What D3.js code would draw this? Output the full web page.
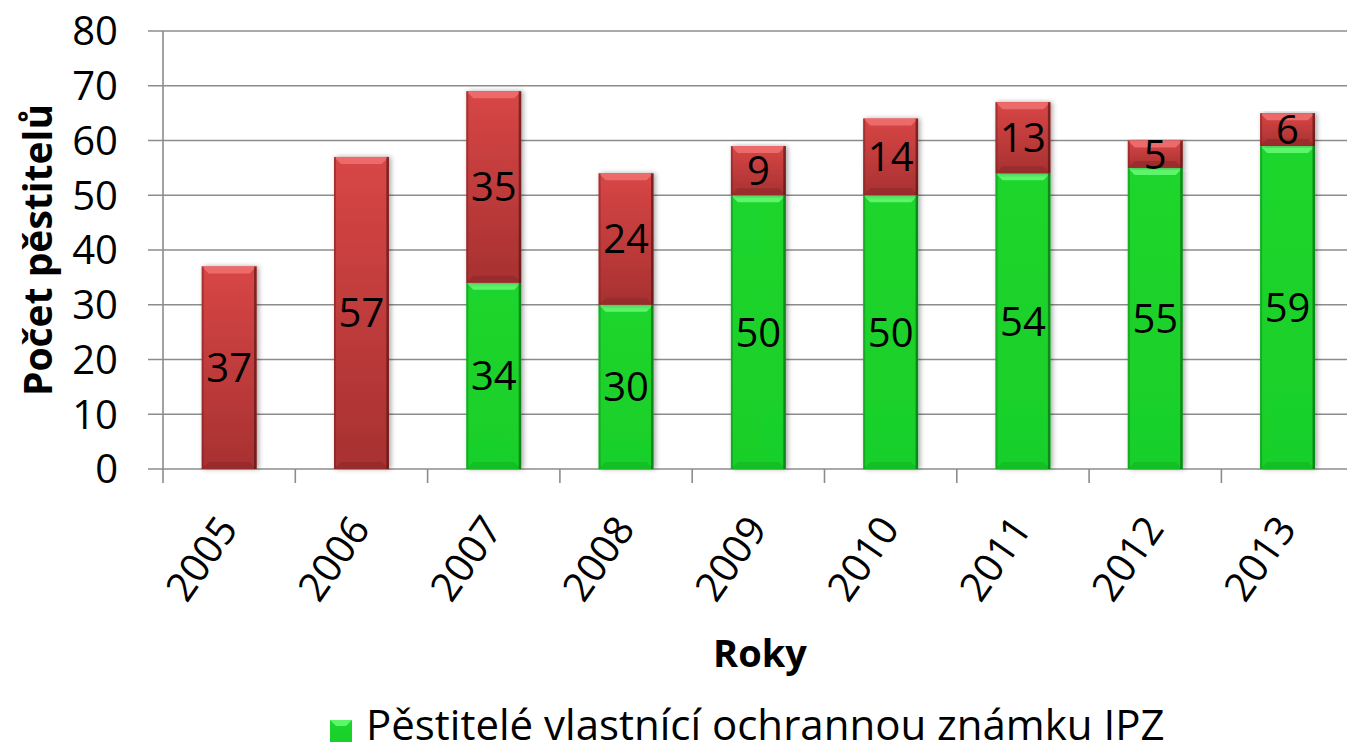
<!DOCTYPE html>
<html>
<head>
<meta charset="utf-8">
<script src="https://cdn.jsdelivr.net/npm/d3@7"></script>
<style>
  body { margin: 0; background: #fff; }
  text { font-family: "Open Sans", sans-serif; }
</style>
</head>
<body>
<div id="chart"></div>
<script>
// chart data
const years = ["2005", "2006", "2007", "2008", "2009", "2010", "2011", "2012", "2013"];
const withIPZ = [0, 0, 34, 30, 50, 50, 54, 55, 59];
const withoutIPZ = [37, 57, 35, 24, 9, 14, 13, 5, 6];
const yTicks = [0, 10, 20, 30, 40, 50, 60, 70, 80];
const legendLabel = "Pěstitelé vlastnící ochrannou známku IPZ";

const width = 1347, height = 752;
const plotLeft = 163, plotTop = 31, plotBottom = 469;
const bandW = 132.3;

let svg = d3.select("#chart")
  .append("svg")
  .attr("width", width)
  .attr("height", height);

let defs = svg.append("defs");

function grad(id, c1, c2) {
  let g = defs.append("linearGradient")
    .attr("id", id)
    .attr("x1", 0).attr("y1", 0).attr("x2", 0).attr("y2", 1);
  g.append("stop").attr("offset", "0%").attr("stop-color", c1);
  g.append("stop").attr("offset", "100%").attr("stop-color", c2);
}
grad("redGrad", "#d84646", "#a83131");
grad("greenGrad", "#1dd52d", "#19cf29");

let shadow = defs.append("filter").attr("id", "shadow")
  .attr("x", "-20%").attr("y", "-5%").attr("width", "140%").attr("height", "110%");
shadow.append("feDropShadow")
  .attr("dx", 2).attr("dy", 0).attr("stdDeviation", 2.5)
  .attr("flood-color", "#000").attr("flood-opacity", 0.35);

let x = d3.scaleBand()
  .domain(years)
  .range([plotLeft, plotLeft + bandW * years.length])
  .paddingInner(0.585)
  .paddingOuter(0.2925);

let y = d3.scaleLinear()
  .domain([0, 80])
  .range([plotBottom, plotTop]);

// gridlines
svg.append("g")
  .selectAll("line")
  .data(yTicks)
  .enter()
  .append("line")
  .attr("x1", plotLeft - 15)
  .attr("x2", width)
  .attr("y1", d => y(d))
  .attr("y2", d => y(d))
  .attr("stroke", "#8c8c8c")
  .attr("stroke-width", 1.6);

// y axis line
svg.append("line")
  .attr("x1", plotLeft).attr("x2", plotLeft)
  .attr("y1", plotTop).attr("y2", plotBottom + 14)
  .attr("stroke", "#8c8c8c").attr("stroke-width", 1.6);

// x ticks
svg.append("g")
  .selectAll("line")
  .data(d3.range(1, years.length))
  .enter()
  .append("line")
  .attr("x1", i => plotLeft + i * bandW)
  .attr("x2", i => plotLeft + i * bandW)
  .attr("y1", plotBottom)
  .attr("y2", plotBottom + 14)
  .attr("stroke", "#8c8c8c").attr("stroke-width", 1.6);

// y tick labels
svg.append("g")
  .selectAll("text")
  .data(yTicks)
  .enter()
  .append("text")
  .attr("x", 118)
  .attr("y", d => y(d))
  .attr("dy", "0.36em")
  .attr("text-anchor", "end")
  .style("font-size", "40px")
  .text(d => d);

// stacked segments
let segments = [];
years.forEach((yr, i) => {
  if (withIPZ[i] > 0) segments.push({ year: yr, y0: 0, y1: withIPZ[i], v: withIPZ[i], kind: "green" });
  if (withoutIPZ[i] > 0) segments.push({ year: yr, y0: withIPZ[i], y1: withIPZ[i] + withoutIPZ[i], v: withoutIPZ[i], kind: "red" });
});

let bars = svg.append("g")
  .selectAll("g")
  .data(segments)
  .enter()
  .append("g");

bars.append("rect")
  .attr("x", d => x(d.year))
  .attr("y", d => y(d.y1))
  .attr("width", x.bandwidth())
  .attr("height", d => y(d.y0) - y(d.y1))
  .attr("fill", d => d.kind === "red" ? "url(#redGrad)" : "url(#greenGrad)")
  .attr("filter", "url(#shadow)");

// bevel: light top, dark bottom, darker sides
const bev = 7;
bars.append("path")
  .attr("d", d => {
    let x0 = x(d.year), x1 = x0 + x.bandwidth(), yt = y(d.y1);
    let b = Math.min(bev, (y(d.y0) - yt) / 2);
    return `M${x0},${yt}L${x1},${yt}L${x1 - b},${yt + b}L${x0 + b},${yt + b}Z`;
  })
  .attr("fill", d => d.kind === "red" ? "#ec6a6a" : "#5cf66a");

bars.append("path")
  .attr("d", d => {
    let x0 = x(d.year), x1 = x0 + x.bandwidth(), yb = y(d.y0);
    let b = Math.min(bev, (yb - y(d.y1)) / 2);
    return `M${x0},${yb}L${x1},${yb}L${x1 - b},${yb - b}L${x0 + b},${yb - b}Z`;
  })
  .attr("fill", d => d.kind === "red" ? "#8e2828" : "#14b423")
  .attr("opacity", 0.6);

bars.append("rect")
  .attr("x", d => x(d.year))
  .attr("y", d => y(d.y1))
  .attr("width", 2)
  .attr("height", d => y(d.y0) - y(d.y1))
  .attr("fill", d => d.kind === "red" ? "#7a1f1f" : "#0e8a1a")
  .attr("opacity", 0.5);

bars.append("rect")
  .attr("x", d => x(d.year) + x.bandwidth() - 2.5)
  .attr("y", d => y(d.y1))
  .attr("width", 2.5)
  .attr("height", d => y(d.y0) - y(d.y1))
  .attr("fill", d => d.kind === "red" ? "#5a1414" : "#0a6a14")
  .attr("opacity", 0.7);

// value labels
bars.append("text")
  .attr("x", d => x(d.year) + x.bandwidth() / 2)
  .attr("y", d => (y(d.y0) + y(d.y1)) / 2)
  .attr("dy", "0.36em")
  .attr("text-anchor", "middle")
  .style("font-size", "40px")
  .text(d => d.v);

// x labels
svg.append("g")
  .selectAll("text")
  .data(years)
  .enter()
  .append("text")
  .attr("transform", d => `translate(${x(d) + x.bandwidth() / 2 + 10},${529}) rotate(-55)`)
  .attr("text-anchor", "end")
  .style("font-size", "40px")
  .text(d => d);

// axis titles
svg.append("text")
  .attr("x", 760)
  .attr("y", 667)
  .attr("text-anchor", "middle")
  .style("font-size", "38px")
  .style("font-weight", "bold")
  .text("Roky");

svg.append("text")
  .attr("transform", "translate(52,250) rotate(-90)")
  .attr("text-anchor", "middle")
  .style("font-size", "39px")
  .style("font-weight", "bold")
  .text("Počet pěstitelů");

// legend
let legend = svg.append("g");
legend.append("rect")
  .attr("x", 330).attr("y", 720)
  .attr("width", 22).attr("height", 22)
  .attr("fill", "url(#greenGrad)");
legend.append("path")
  .attr("d", "M330,720L352,720L346,726L336,726Z")
  .attr("fill", "#5cf66a");
legend.append("text")
  .attr("x", 366)
  .attr("y", 740)
  .style("font-size", "42px")
  .text(legendLabel);
</script>
</body>
</html>
